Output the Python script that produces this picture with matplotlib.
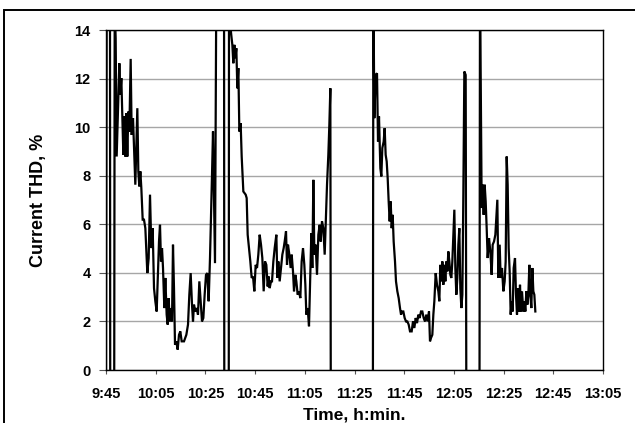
import matplotlib
matplotlib.use("Agg")
import matplotlib.pyplot as plt
from matplotlib.patches import Rectangle

# minutes after 9:45 and current THD (%)
# (-1 / 16 mark stretches where the trace sits below / above the visible range)
minutes = [0, 0.3, 1.6, 1.7, 3.3, 3.5, 3.89,
           4.29, 4.83, 5.37, 5.77, 6.17, 6.57, 6.98, 7.38, 7.78, 8.18, 8.58, 8.99, 9.39, 9.93,
           10.33, 10.87, 11.40, 11.80, 12.61, 13.01, 13.41, 13.82, 14.22, 14.76, 15.29, 15.83,
           16.37, 16.63, 17.17, 17.71, 18.24, 18.78, 19.32, 19.85, 20.39, 20.79, 21.33, 21.73,
           22.13, 22.54, 22.94, 23.47, 23.88, 24.41, 24.82, 25.22, 25.62, 26.02, 26.56, 26.96,
           27.36, 27.77, 28.30, 28.84, 29.38, 29.91, 30.45, 31.39, 32.33, 33.00, 33.53, 34.07,
           34.61, 35.01, 35.41, 35.95, 36.49, 37.02, 37.56, 38.10, 38.63, 39.17, 39.70, 40.24,
           40.78, 41.31, 41.85, 42.12, 42.66, 43.06, 43.59, 43.86, 44.40, 47.5, 47.6, 49.4, 49.5,
           50.30, 50.84, 51.24, 51.65, 52.05, 52.45, 52.85, 53.26, 53.66, 54.19, 54.60, 55.27,
           56.21, 56.61, 57.01, 57.55, 58.08, 58.62, 59.16, 59.69, 60.23, 60.77, 61.30, 61.84,
           62.38, 62.91, 63.45, 63.99, 64.52, 65.06, 65.46, 65.86, 66.40, 66.80, 67.34, 67.88,
           68.55, 68.95, 69.35, 69.89, 70.42, 70.96, 71.50, 71.90, 72.44, 72.84, 73.24, 73.78,
           74.31, 74.72, 75.25, 75.66, 76.19, 76.60, 77.13, 77.67, 78.20, 78.74, 79.28, 79.81,
           80.22, 80.62, 81.16, 81.69, 82.23, 82.63, 83.03, 83.44, 83.84, 84.38, 84.91, 85.45,
           85.99, 86.39, 86.92, 87.46, 88.00, 88.53, 88.94, 89.47, 89.88, 90.28, 90.45,
           107.4, 107.6,
           107.98, 108.52, 109.06, 109.46, 109.86, 110.40, 110.80, 111.20, 111.74, 112.14, 112.54,
           112.95, 113.35, 113.75, 114.15, 114.56, 114.96, 115.36, 115.76, 116.30, 116.70, 117.24,
           117.78, 118.31, 118.72, 119.12, 119.65, 120.19, 120.73, 121.26, 121.80, 122.34, 123.01,
           123.54, 124.08, 124.62, 125.15, 125.69, 126.23, 126.76, 127.30, 127.84, 128.37, 128.91,
           129.45, 129.98, 130.38, 130.79, 131.32, 131.73, 132.13, 132.67, 133.20, 133.74, 134.14,
           134.54, 134.95, 135.35, 135.75, 136.15, 136.56, 136.96, 137.36, 137.76, 138.17, 138.57,
           138.97, 139.37, 139.78, 140.18, 140.58, 140.98, 141.39, 141.79, 142.19, 142.59, 143.00,
           143.40, 143.80, 144.20, 144.74, 145.0,
           150.3, 150.5,
           151.18, 151.58, 151.98, 152.38, 152.79, 153.19, 153.59, 154.13, 154.66, 155.20, 155.60,
           156.14, 156.68, 157.48, 157.88, 158.42, 158.82, 159.36, 159.90, 160.43, 160.83, 161.24,
           161.64, 162.04, 162.44, 162.85, 163.25, 163.65, 164.05, 164.59, 164.99, 165.39, 165.80,
           166.20, 166.60, 167.00, 167.41, 167.94, 168.35, 168.75, 169.15, 169.55, 169.96, 170.36,
           170.76, 171.16, 171.57, 171.97, 172.37, 172.77]

thd = [-1, 16, 16, -1, -1, 15, 13.66,
       8.79, 10.64, 12.63, 11.33, 12.02, 10.37, 8.86, 10.44, 8.79, 10.58, 8.79, 10.64, 9.82, 12.81,
       9.68, 10.37, 8.86, 7.63, 10.78, 8.18, 7.56, 8.18, 7.49, 6.19, 6.19, 5.84,
       4.61, 3.99, 4.61, 7.22, 5.02, 5.84, 3.37, 2.83, 2.41, 3.65, 5.29, 5.98,
       4.47, 5.02, 4.20, 2.55, 3.79, 2.28, 1.87, 2.96, 2.00, 2.55, 2.00, 5.16,
       3.37, 1.04, 1.18, 0.84, 1.45, 1.59, 1.18, 1.18, 1.45, 1.87, 3.10, 3.99,
       2.69, 2.00, 2.69, 2.41, 2.55, 2.28, 3.65, 2.83, 2.00, 2.14, 3.10, 3.92,
       3.99, 2.83, 4.61, 5.71, 8.04, 9.82, 6.39, 4.40, 16, 16, -1, -1, 16,
       13.9, 13.39, 12.63, 13.39, 12.84, 13.25, 11.60, 12.43, 9.82, 10.16, 8.79, 7.35,
       7.22, 7.08, 5.57, 5.02, 4.47, 3.79, 3.85, 3.24, 4.33, 4.20, 4.75, 5.57,
       5.16, 4.61, 3.24, 4.47, 4.33, 3.44, 3.85, 3.37, 3.65, 3.65, 4.47, 5.02,
       5.57, 3.79, 4.47, 3.65, 4.20, 4.75, 5.02, 5.29, 5.71, 4.33, 5.16, 4.75,
       4.20, 4.75, 4.06, 3.24, 3.92, 3.65, 3.10, 3.24, 2.96, 4.47, 5.02, 4.33,
       3.51, 2.28, 2.55, 1.80, 4.06, 5.64, 4.20, 7.83, 4.75, 5.16, 3.92, 5.57,
       5.98, 5.29, 6.12, 5.84, 4.75, 6.39, 7.63, 8.86, 10.10, 11.60, -1,
       -1, 16,
       10.37, 12.15, 12.22, 9.41, 10.44, 8.31, 7.97, 9.14, 9.41, 9.96, 8.86,
       8.59, 7.90, 6.94, 6.12, 6.94, 5.84, 6.39, 5.29, 4.47, 3.65, 3.24,
       2.96, 2.55, 2.28, 2.41, 2.41, 2.14, 2.00, 2.00, 1.87, 1.59, 1.59,
       2.00, 1.73, 2.14, 1.93, 2.28, 2.14, 2.41, 2.41, 2.14, 2.00, 2.28,
       2.00, 2.41, 1.18, 1.32, 1.45, 2.28, 2.83, 3.99, 3.51, 3.24, 2.83,
       4.33, 3.65, 4.47, 3.51, 4.33, 3.65, 4.47, 4.06, 4.88, 4.47, 3.92,
       3.79, 4.47, 5.57, 6.60, 4.20, 3.10, 3.79, 5.16, 5.84, 3.37, 2.55,
       3.10, 7.22, 12.29, 12.15, -1,
       -1, 16,
       6.67, 7.63, 6.39, 7.63, 6.94, 5.84, 4.61, 5.43, 4.88, 3.92, 5.16,
       5.29, 5.57, 7.01, 3.79, 5.16, 3.79, 4.20, 3.24, 3.65, 4.47, 8.79,
       7.63, 5.02, 4.06, 2.28, 2.83, 2.41, 4.20, 4.61, 3.10, 2.28, 3.37,
       2.41, 3.51, 2.41, 3.24, 2.41, 2.83, 2.41, 3.24, 2.69, 3.10, 4.33,
       3.10, 2.55, 4.20, 3.24, 3.10, 2.41]

tick_minutes = [0, 20, 40, 60, 80, 100, 120, 140, 160, 180, 200]
tick_labels = ["9:45", "10:05", "10:25", "10:45", "11:05", "11:25",
               "11:45", "12:05", "12:25", "12:45", "13:05"]
y_ticks = [0, 2, 4, 6, 8, 10, 12, 14]

plt.rcParams["font.family"] = ["Liberation Sans", "DejaVu Sans"]
plt.rcParams["font.weight"] = "bold"

fig = plt.figure(figsize=(6.35, 4.23), dpi=100)
ax = fig.add_axes([106 / 635, 1 - 370 / 423, 497 / 635, 340 / 423])

ax.plot(minutes, thd, color="black", linewidth=1.6, solid_joinstyle="miter")
ax.set_xlim(0, 200)
ax.set_ylim(0, 14)
ax.set_xticks(tick_minutes)
ax.set_xticklabels(tick_labels)
ax.set_yticks(y_ticks)
ax.grid(axis="y", color="#a6a6a6", linewidth=1.0)
ax.set_axisbelow(True)

ax.tick_params(axis="x", direction="out", length=3, width=0.8, pad=9,
               labelsize=10.5, color="#555555")
ax.tick_params(axis="y", direction="out", length=5, width=0.8, pad=6,
               labelsize=10.5, color="#555555")
for lab in ax.get_xticklabels() + ax.get_yticklabels():
    lab.set_fontweight("bold")
for sp in ax.spines.values():
    sp.set_linewidth(1.0)
    sp.set_color("black")

ax.set_xlabel("Time, h:min.", fontsize=12.5, fontweight="bold", labelpad=5)
ax.set_ylabel("Current THD, %", fontsize=13, fontweight="bold", labelpad=20)

# frame around the chart (right and bottom edges fall outside the image)
fig.patches.append(Rectangle((4 / 635, -0.1), 1.2, 1.1 - 10 / 423, transform=fig.transFigure,
                             fill=False, edgecolor="black", linewidth=1.4))

fig.savefig("out.png", dpi=100)
